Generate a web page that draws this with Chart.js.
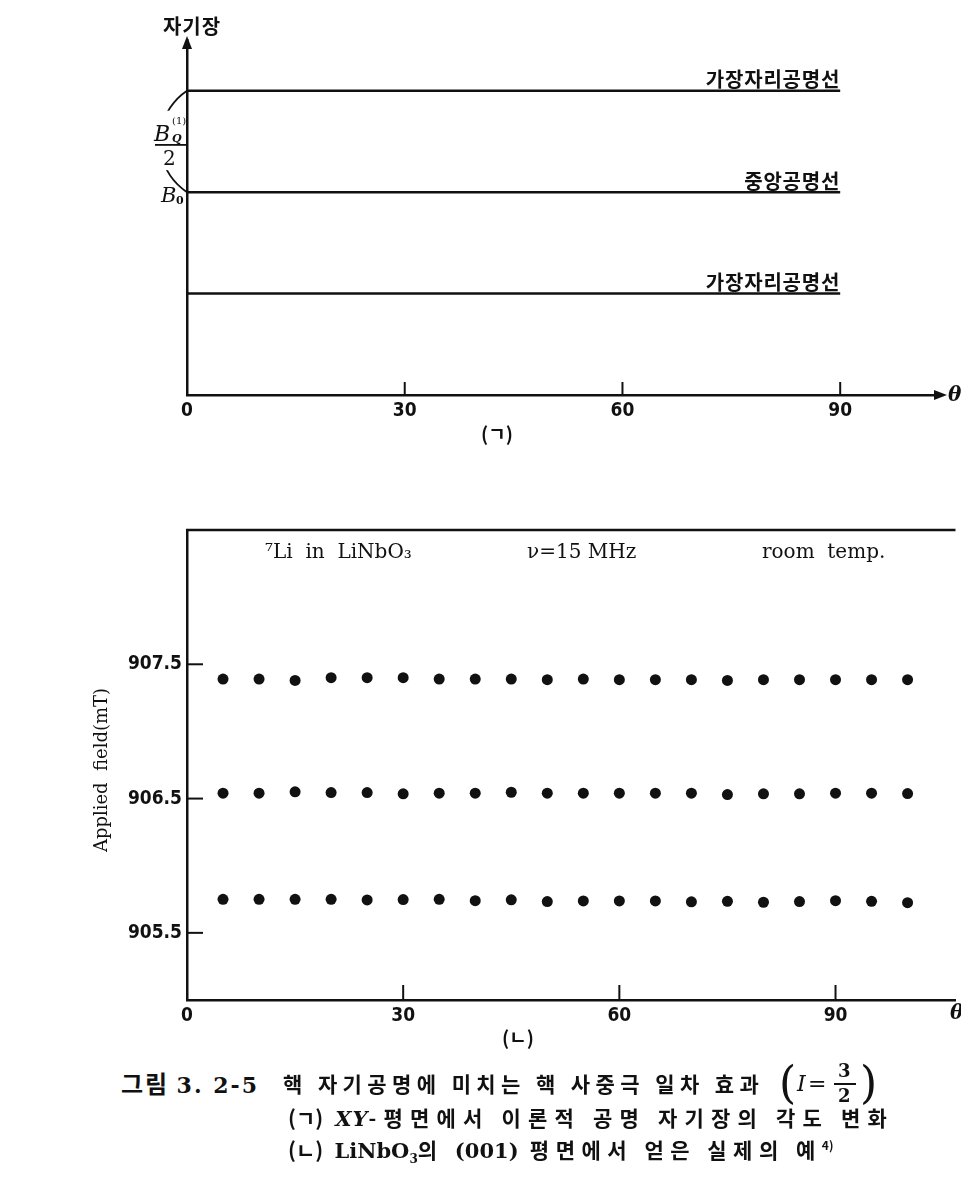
<!DOCTYPE html>
<html>
<head>
<meta charset="utf-8">
<script src="https://cdn.jsdelivr.net/npm/chart.js@4.4.0/dist/chart.umd.min.js"></script>
<style>
body { margin: 0; background: #fff; width: 961px; height: 1181px; position: relative; overflow: hidden; }
#topChart { position: absolute; left: 0; top: 0; }
#bottomChart { position: absolute; left: 0; top: 480px; }
.cap { position: absolute; white-space: nowrap; font-family: 'Noto Sans CJK KR', sans-serif; font-size: 21px; color: #111; line-height: 1; font-weight: bold; }
.lat { font-family: 'DejaVu Serif', serif; font-weight: bold; }
.tight { letter-spacing: 0; }
.frac { position: absolute; font-family: 'DejaVu Serif', serif; color: #111; line-height: 1; }
</style>
</head>
<body>
<canvas id="topChart" width="961" height="470"></canvas>
<canvas id="bottomChart" width="961" height="580"></canvas>

<div class="cap" style="left:121px; top:1071px; font-size:24px; letter-spacing:2px;">그림 <span class="lat" style="font-size:22px;">3. 2-5</span></div>
<div class="cap" style="left:283px; top:1073px; letter-spacing:5.4px;">핵 자기공명에 미치는 핵 사중극 일차 효과</div>
<div class="frac" style="left:779px; top:1061px; font-size:44px; font-weight:300;">(</div>
<div class="frac" style="left:797px; top:1073px; font-size:22px; font-style:italic;">I</div>
<div class="frac" style="left:808px; top:1073px; font-size:22px;">=</div>
<div class="frac" style="left:838px; top:1062px; font-size:18px; font-weight:bold;">3</div>
<div class="frac" style="left:834px; top:1083px; width:22px; height:2px; background:#111;"></div>
<div class="frac" style="left:838px; top:1087px; font-size:18px; font-weight:bold;">2</div>
<div class="frac" style="left:860px; top:1061px; font-size:44px; font-weight:300;">)</div>
<div class="cap" style="left:288px; top:1107px; letter-spacing:7.2px;"><span class="tight">(ㄱ)</span> <span class="lat" style="font-style:italic; letter-spacing:1px;">XY</span>-평면에서 이론적 공명 자기장의 각도 변화</div>
<div class="cap" style="left:288px; top:1139px; letter-spacing:6.5px;"><span class="tight">(ㄴ)</span> <span class="lat tight">LiNbO<sub style="font-size:12px;">3</sub></span>의 <span class="lat tight">(001)</span> 평면에서 얻은 실제의 예<sup class="tight" style="font-size:12px;">4)</sup></div>

<script>
'use strict';

// (ㄱ) theoretical lines, arbitrary field units around B0
let topAngles = [0, 90];
let edgeUpper = [1, 1];
let centralLine = [0, 0];
let edgeLower = [-1, -1];
let topTicks = [0, 30, 60, 90];

// (ㄴ) measured 7Li resonances in LiNbO3
let angles = [5, 10, 15, 20, 25, 30, 35, 40, 45, 50, 55, 60, 65, 70, 75, 80, 85, 90, 95, 100];
let upperField = [907.39, 907.39, 907.38, 907.40, 907.40, 907.40, 907.39, 907.39, 907.39, 907.385,
                  907.39, 907.385, 907.385, 907.385, 907.38, 907.385, 907.385, 907.385, 907.385, 907.385];
let middleField = [906.54, 906.54, 906.55, 906.545, 906.545, 906.535, 906.54, 906.54, 906.547, 906.54,
                   906.54, 906.54, 906.54, 906.54, 906.53, 906.535, 906.535, 906.54, 906.54, 906.537];
let lowerField = [905.75, 905.75, 905.75, 905.75, 905.745, 905.748, 905.75, 905.74, 905.746, 905.733,
                  905.738, 905.738, 905.738, 905.731, 905.735, 905.728, 905.733, 905.74, 905.735, 905.725];
let fieldTicks = [905.5, 906.5, 907.5];
let angleTicks = [0, 30, 60, 90];

let ink = '#111';
let tickFont = { family: "'DejaVu Sans Condensed', 'Liberation Sans', sans-serif", size: 19, weight: 'bold' };

function toPoints(xs, ys) {
    return xs.map(function (x, i) { return { x: x, y: ys[i] }; });
}

function lineSet(ys) {
    return { data: toPoints(topAngles, ys), showLine: true, borderColor: ink, borderWidth: 2.5, pointRadius: 0 };
}

function dotSet(ys) {
    return { data: toPoints(angles, ys), showLine: false, backgroundColor: ink, borderColor: ink, pointRadius: 5.5, pointBorderWidth: 0 };
}

let topDecor = {
    id: 'topDecor',
    afterDraw: function (chart) {
        let ctx = chart.ctx;
        let xs = chart.scales.x;
        let ys = chart.scales.y;
        let area = chart.chartArea;
        ctx.save();
        ctx.fillStyle = ink;
        ctx.strokeStyle = ink;

        // arrows
        ctx.beginPath();
        ctx.moveTo(area.left, area.top - 4);
        ctx.lineTo(area.left - 5, area.top + 9);
        ctx.lineTo(area.left + 5, area.top + 9);
        ctx.fill();
        ctx.beginPath();
        ctx.moveTo(area.right + 11, area.bottom);
        ctx.lineTo(area.right - 2, area.bottom - 5);
        ctx.lineTo(area.right - 2, area.bottom + 5);
        ctx.fill();

        // inward ticks
        ctx.lineWidth = 2;
        topTicks.slice(1).forEach(function (v) {
            let px = xs.getPixelForValue(v);
            ctx.beginPath();
            ctx.moveTo(px, area.bottom);
            ctx.lineTo(px, area.bottom - 13);
            ctx.stroke();
        });

        // line labels
        ctx.font = "bold 20px 'Noto Sans CJK KR'";
        ctx.letterSpacing = '0.8px';
        ctx.textAlign = 'right';
        ctx.textBaseline = 'bottom';
        let xEnd = xs.getPixelForValue(90);
        ctx.fillText('가장자리공명선', xEnd, ys.getPixelForValue(edgeUpper[1]) - 1);
        ctx.fillText('중앙공명선', xEnd, ys.getPixelForValue(centralLine[1]) - 1);
        ctx.fillText('가장자리공명선', xEnd, ys.getPixelForValue(edgeLower[1]) - 1);

        ctx.textAlign = 'center';
        ctx.textBaseline = 'middle';
        ctx.letterSpacing = '1px';
        ctx.fillText('자기장', area.left + 5, 26);
        ctx.font = "bold 19px 'Noto Sans CJK KR'";
        ctx.letterSpacing = '0px';
        ctx.fillText('(ㄱ)', 497, 434);
        ctx.font = "bold italic 20px 'DejaVu Serif'";
        ctx.textAlign = 'left';
        ctx.fillText('θ', area.right + 12, area.bottom + 1);

        // splitting arc B0 -> B0 + BQ/2
        let yA = ys.getPixelForValue(edgeUpper[0]);
        let yB = ys.getPixelForValue(centralLine[0]);
        let half = (yB - yA) / 2;
        let bulge = 27;
        let r = (half * half + bulge * bulge) / (2 * bulge);
        let cx = area.left - bulge + r;
        let cy = yA + half;
        let a = Math.atan2(half, area.left - cx);
        ctx.lineWidth = 1.8;
        ctx.beginPath();
        ctx.arc(cx, cy, r, a, 2 * Math.PI - a, false);
        ctx.stroke();
        ctx.fillStyle = '#fff';
        ctx.fillRect(150, yA + 20, area.left - 152, yB - yA - 42);
        ctx.fillStyle = ink;

        ctx.textBaseline = 'alphabetic';
        ctx.font = "italic 22px 'DejaVu Serif'";
        ctx.fillText('B', 154, 141);
        ctx.font = "italic bold 11px 'DejaVu Serif'";
        ctx.fillText('Q', 172, 142);
        ctx.font = "10px 'DejaVu Serif'";
        ctx.fillText('(1)', 172, 124);
        ctx.fillRect(155, 144, 31, 1.8);
        ctx.font = "20px 'DejaVu Serif'";
        ctx.fillText('2', 163, 165);
        ctx.font = "italic 21px 'DejaVu Serif'";
        ctx.fillText('B', 161, 202);
        ctx.font = "bold 11px 'DejaVu Serif'";
        ctx.fillText('0', 176, 204);
        ctx.restore();
    }
};

let bottomDecor = {
    id: 'bottomDecor',
    afterDraw: function (chart) {
        let ctx = chart.ctx;
        let xs = chart.scales.x;
        let ys = chart.scales.y;
        let area = chart.chartArea;
        ctx.save();
        ctx.strokeStyle = ink;
        ctx.fillStyle = ink;

        ctx.lineWidth = 2.5;
        ctx.beginPath();
        ctx.moveTo(area.left - 1, area.top);
        ctx.lineTo(area.right, area.top);
        ctx.stroke();

        ctx.lineWidth = 2;
        fieldTicks.forEach(function (v) {
            let py = ys.getPixelForValue(v);
            ctx.beginPath();
            ctx.moveTo(area.left, py);
            ctx.lineTo(area.left + 16, py);
            ctx.stroke();
        });
        angleTicks.slice(1).forEach(function (v) {
            let px = xs.getPixelForValue(v);
            ctx.beginPath();
            ctx.moveTo(px, area.bottom);
            ctx.lineTo(px, area.bottom - 15);
            ctx.stroke();
        });

        ctx.font = "20px 'DejaVu Serif'";
        ctx.textBaseline = 'middle';
        ctx.textAlign = 'left';
        ctx.fillText('⁷Li  in  LiNbO₃', 265, 73);
        ctx.fillText('ν=15 MHz', 527, 73);
        ctx.fillText('room  temp.', 762, 73);

        ctx.font = "bold italic 20px 'DejaVu Serif'";
        ctx.fillText('θ', 950, area.bottom + 14);

        ctx.font = "bold 19px 'Noto Sans CJK KR'";
        ctx.textAlign = 'center';
        ctx.fillText('(ㄴ)', 518, area.bottom + 38);

        ctx.translate(102, 290);
        ctx.rotate(-Math.PI / 2);
        ctx.font = "18px 'DejaVu Serif'";
        ctx.fillText('Applied  field(mT)', 0, 0);
        ctx.restore();
    }
};

let axisBorder = { display: true, color: ink, width: 2.5 };
let noGrid = { display: false, drawTicks: false };

new Chart(document.getElementById('topChart'), {
    type: 'scatter',
    data: { datasets: [lineSet(edgeUpper), lineSet(centralLine), lineSet(edgeLower)] },
    options: {
        responsive: false,
        animation: false,
        layout: { padding: { top: 40, right: 25, left: 0, bottom: 0 } },
        plugins: { legend: { display: false }, tooltip: { enabled: false } },
        scales: {
            x: {
                type: 'linear', min: 0, max: 103.2,
                afterBuildTicks: function (s) { s.ticks = topTicks.map(function (v) { return { value: v }; }); },
                afterFit: function (s) { s.height = 75; },
                grid: noGrid, border: axisBorder,
                ticks: { padding: 5, color: ink, font: tickFont, maxRotation: 0, autoSkip: false }
            },
            y: {
                type: 'linear', min: -2, max: 1.5,
                afterFit: function (s) { s.width = 187; },
                grid: noGrid, border: axisBorder,
                ticks: { display: false }
            }
        }
    },
    plugins: [topDecor]
});

new Chart(document.getElementById('bottomChart'), {
    type: 'scatter',
    data: { datasets: [dotSet(upperField), dotSet(middleField), dotSet(lowerField)] },
    options: {
        responsive: false,
        animation: false,
        layout: { padding: { top: 50, right: 0, left: 0, bottom: 0 } },
        plugins: { legend: { display: false }, tooltip: { enabled: false } },
        scales: {
            x: {
                type: 'linear', min: 0, max: 106.65,
                afterBuildTicks: function (s) { s.ticks = angleTicks.map(function (v) { return { value: v }; }); },
                afterFit: function (s) { s.height = 60; },
                grid: noGrid, border: axisBorder,
                ticks: { padding: 5, color: ink, font: tickFont, maxRotation: 0, autoSkip: false }
            },
            y: {
                type: 'linear', min: 905.0, max: 908.5,
                afterBuildTicks: function (s) { s.ticks = fieldTicks.map(function (v) { return { value: v }; }); },
                afterFit: function (s) { s.width = 187; },
                grid: noGrid, border: axisBorder,
                ticks: { padding: 5, color: ink, font: tickFont, callback: function (v) { return v.toFixed(1); } }
            }
        }
    },
    plugins: [bottomDecor]
});
</script>
</body>
</html>
